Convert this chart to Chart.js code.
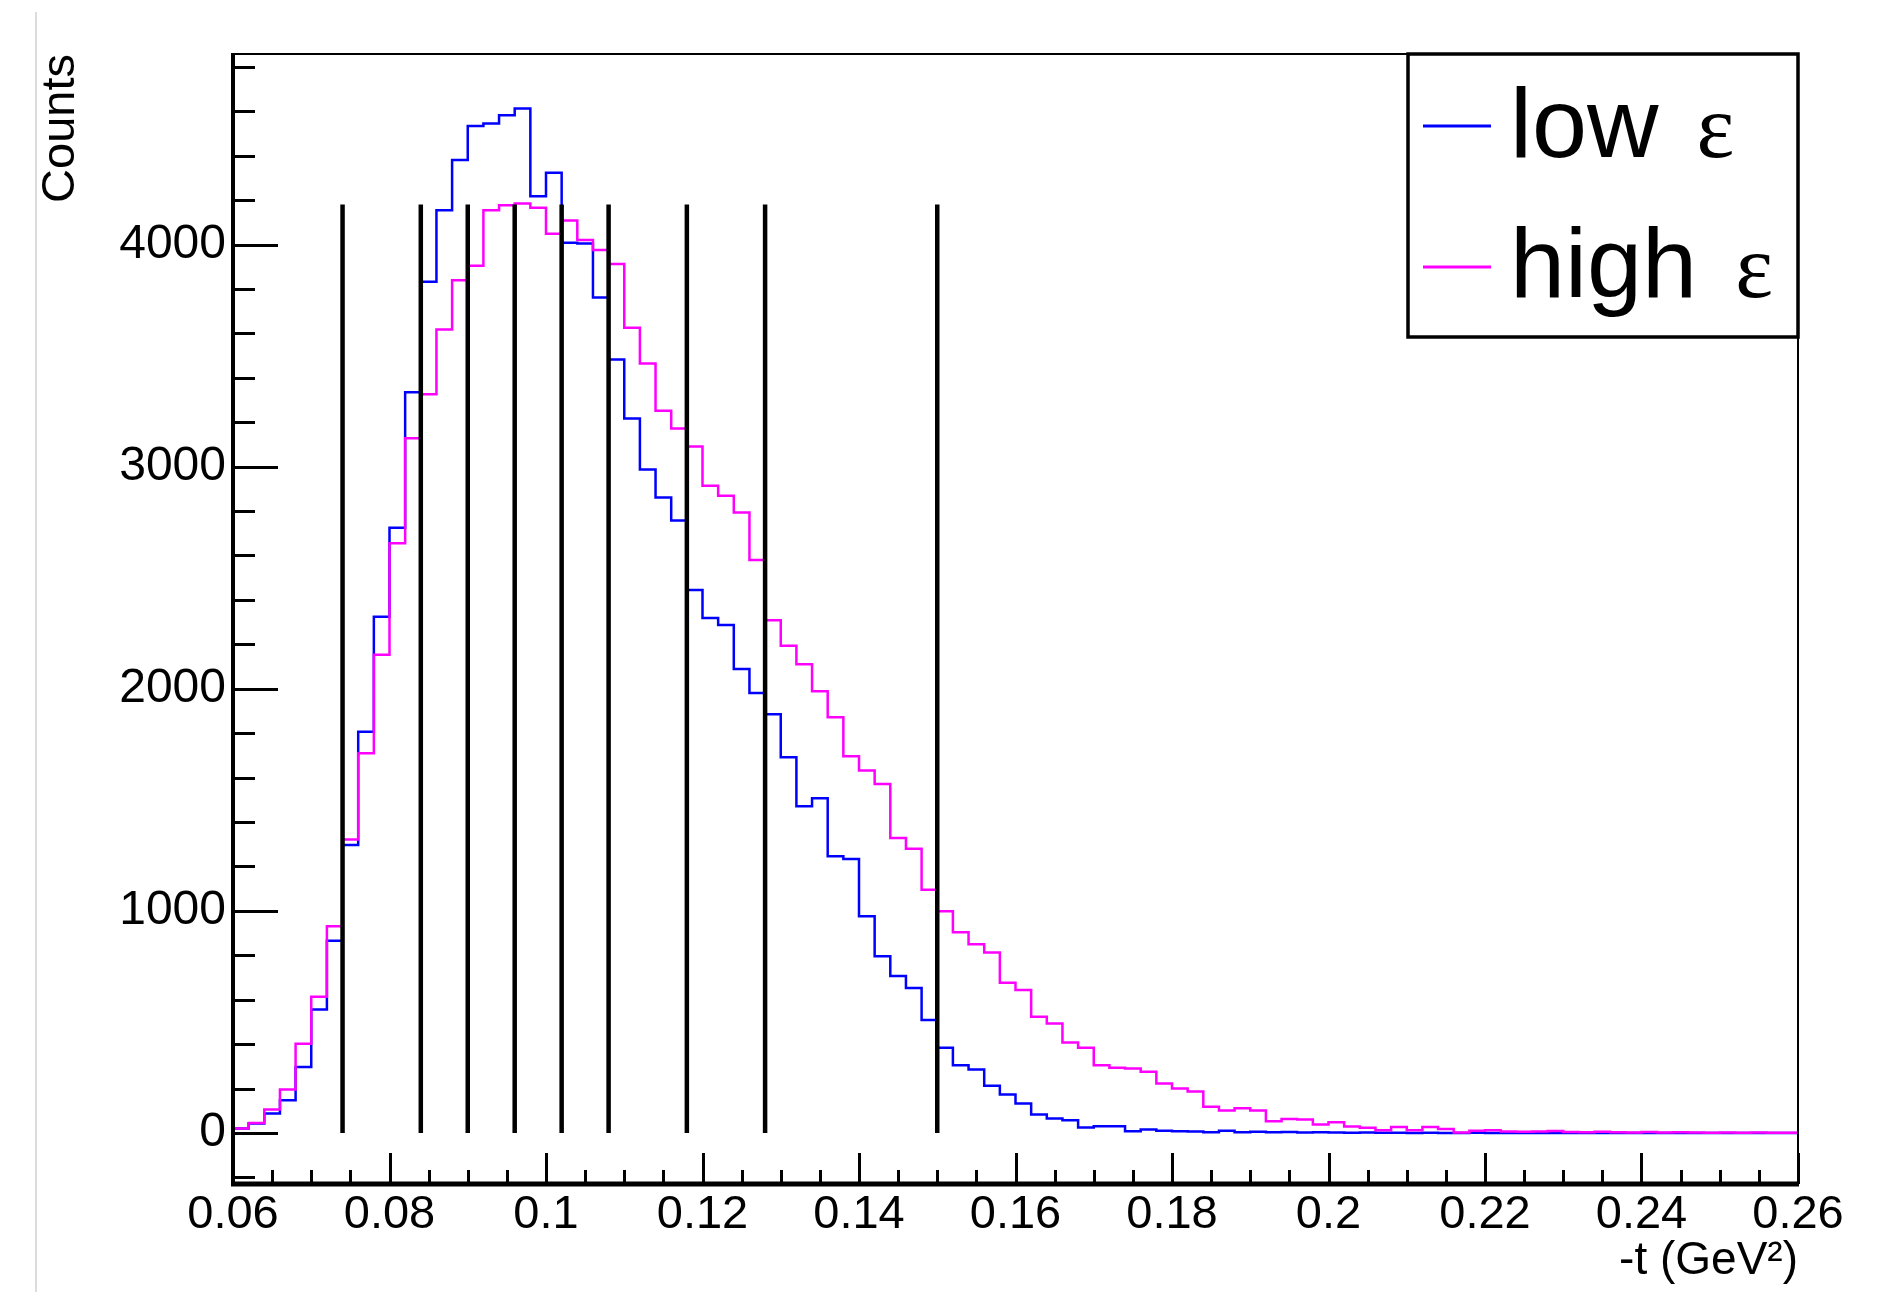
<!DOCTYPE html>
<html lang="en">
<head>
<meta charset="UTF-8">
<title>-t distribution, low and high epsilon</title>
<script src="https://cdn.jsdelivr.net/npm/chart.js@4.4.1/dist/chart.umd.min.js"></script>
<style>
    html, body { margin: 0; padding: 0; background: #fff; }
    .pagina { position: relative; width: 1890px; height: 1292px; }
    .borda { position: absolute; left: 35px; top: 12px; width: 2px; height: 1280px; background: #dcdcdc; }
    #grafico { position: absolute; left: 0; top: 0; }
</style>
</head>
<body>
<div class="pagina">
    <div class="borda"></div>
    <canvas id="grafico" width="1890" height="1292"></canvas>
</div>
<script>
    // histogram binning: 100 bins of 0.002 GeV^2 between 0.06 and 0.26
    const xMin = 0.06;
    const xMax = 0.26;
    const nBins = 100;

    // counts per bin
    const lowEps = [
        20, 42, 87, 147, 297, 556, 865, 1296, 1806, 2324,
        2725, 3335, 3832, 4154, 4381, 4534, 4545, 4582, 4613, 4218,
        4323, 4008, 4005, 3762, 3482, 3217, 2987, 2861, 2758, 2445,
        2319, 2287, 2089, 1981, 1885, 1692, 1471, 1507, 1246, 1233,
        976, 796, 706, 653, 508, 383, 305, 285, 212, 173,
        132, 83, 65, 57, 24, 30, 30, 8, 15, 10,
        8, 6, 3, 10, 3, 5, 3, 4, 2, 3,
        2, 1, 2, 1, 1, 0, 1, 0, 0, 1,
        0, 0, 0, 0, 0, 0, 0, 0, 0, 0,
        0, 0, 0, 0, 0, 0, 0, 0, 0, 0
    ];
    const highEps = [
        20, 45, 105, 195, 402, 613, 931, 1321, 1709, 2153,
        2655, 3128, 3326, 3617, 3839, 3905, 4154, 4177, 4185, 4166,
        4049, 4108, 4020, 3976, 3912, 3625, 3464, 3252, 3172, 3091,
        2914, 2869, 2794, 2580, 2308, 2194, 2110, 1989, 1872, 1696,
        1632, 1571, 1328, 1280, 1095, 998, 903, 850, 812, 676,
        643, 523, 493, 407, 383, 305, 293, 290, 275, 222,
        200, 187, 118, 101, 111, 101, 53, 63, 60, 38,
        48, 29, 23, 12, 27, 12, 27, 18, 2, 10,
        12, 6, 5, 6, 9, 4, 3, 5, 3, 2,
        4, 2, 3, 2, 1, 2, 1, 2, 1, 1
    ];

    // -t bin boundaries drawn as black lines
    const tCuts = [0.074, 0.084, 0.090, 0.096, 0.102, 0.108, 0.118, 0.128, 0.150];
    const cutTop = 4180;

    const yTicks = [0, 1000, 2000, 3000, 4000];
    const yTickLabels = ['0', '1000', '2000', '3000', '4000'];
    const xTicks = [0.06, 0.08, 0.10, 0.12, 0.14, 0.16, 0.18, 0.20, 0.22, 0.24, 0.26];
    const xTickLabels = ['0.06', '0.08', '0.1', '0.12', '0.14', '0.16', '0.18', '0.2', '0.22', '0.24', '0.26'];

    const fonte = '"Liberation Sans", Arial, Helvetica, sans-serif';

    function pontosHisto(valores) {
        const largura = (xMax - xMin) / nBins;
        const pts = valores.map((v, i) => ({ x: xMin + largura * i, y: v }));
        pts.push({ x: xMax, y: valores[valores.length - 1] });
        return pts;
    }

    const pontosCortes = [];
    tCuts.forEach(t => {
        pontosCortes.push({ x: t, y: 0 }, { x: t, y: cutTop }, { x: t, y: null });
    });

    // ROOT style frame with ticks pointing inwards
    const moldura = {
        id: 'moldura',
        afterDatasetsDraw(chart) {
            const ctx = chart.ctx;
            const a = chart.chartArea;
            const sx = chart.scales.x;
            const sy = chart.scales.y;
            ctx.save();
            ctx.strokeStyle = '#000';
            ctx.lineCap = 'butt';

            ctx.lineWidth = 3;
            for (let k = -1; k <= 24; k++) {
                const v = k * 200;
                if (v < sy.min || v > sy.max) continue;
                const y = Math.round(sy.getPixelForValue(v)) + 0.5;
                const len = (v % 1000 === 0) ? 45 : 22;
                ctx.beginPath();
                ctx.moveTo(a.left, y);
                ctx.lineTo(a.left + len, y);
                ctx.stroke();
            }
            for (let k = 0; k <= 40; k++) {
                const v = xMin + k * 0.005;
                const x = Math.round(sx.getPixelForValue(v)) + 0.5;
                const len = (k % 4 === 0) ? 31 : 14;
                ctx.beginPath();
                ctx.moveTo(x, a.bottom);
                ctx.lineTo(x, a.bottom - len);
                ctx.stroke();
            }

            ctx.lineWidth = 2;
            ctx.beginPath();
            ctx.moveTo(a.left, a.top);
            ctx.lineTo(a.right, a.top);
            ctx.lineTo(a.right, a.bottom);
            ctx.stroke();

            ctx.lineWidth = 4;
            ctx.beginPath();
            ctx.moveTo(a.left, a.top - 1);
            ctx.lineTo(a.left, a.bottom);
            ctx.stroke();
            ctx.lineWidth = 5;
            ctx.beginPath();
            ctx.moveTo(a.left - 2, a.bottom);
            ctx.lineTo(a.right + 1, a.bottom);
            ctx.stroke();
            ctx.restore();
        }
    };

    // boxed legend in the top right corner
    const legenda = {
        id: 'legenda',
        afterDraw(chart) {
            const ctx = chart.ctx;
            const a = chart.chartArea;
            const w = 390, h = 283;
            const x0 = a.right - w, y0 = a.top;
            ctx.save();
            ctx.fillStyle = '#fff';
            ctx.fillRect(x0, y0, w, h);
            ctx.strokeStyle = '#000';
            ctx.lineWidth = 3.5;
            ctx.strokeRect(x0, y0, w, h);

            const itens = chart.data.datasets.filter(d => d.noLegenda !== true);
            itens.forEach((d, i) => {
                const yLinha = y0 + 72 + i * 141;
                const yBase = y0 + 103 + i * 140;
                ctx.strokeStyle = d.borderColor;
                ctx.lineWidth = 3;
                ctx.beginPath();
                ctx.moveTo(x0 + 15, yLinha);
                ctx.lineTo(x0 + 83, yLinha);
                ctx.stroke();

                const partes = d.label.split(' ');
                ctx.fillStyle = '#000';
                ctx.textBaseline = 'alphabetic';
                ctx.textAlign = 'left';
                ctx.font = '99px ' + fonte;
                ctx.fillText(partes[0], x0 + 102, yBase);
                const larg = ctx.measureText(partes[0]).width;
                ctx.font = '90px "Liberation Serif", "Times New Roman", serif';
                ctx.fillText(partes[1], x0 + 102 + larg + 38, yBase);
            });
            ctx.restore();
        }
    };

    const config = {
        type: 'line',
        data: {
            datasets: [
                {
                    label: 'bins',
                    noLegenda: true,
                    data: pontosCortes,
                    borderColor: '#000',
                    borderWidth: 4.5,
                    pointRadius: 0,
                    order: 0
                },
                {
                    label: 'low ε',
                    data: pontosHisto(lowEps),
                    borderColor: '#0000ff',
                    borderWidth: 2.5,
                    pointRadius: 0,
                    stepped: true,
                    order: 2
                },
                {
                    label: 'high ε',
                    data: pontosHisto(highEps),
                    borderColor: '#ff00ff',
                    borderWidth: 2.5,
                    pointRadius: 0,
                    stepped: true,
                    order: 1
                }
            ]
        },
        options: {
            responsive: false,
            devicePixelRatio: 1,
            animation: false,
            layout: { padding: { left: 0, top: 54, right: 92, bottom: 0 } },
            plugins: {
                legend: { display: false },
                tooltip: { enabled: false }
            },
            scales: {
                x: {
                    type: 'linear',
                    min: xMin,
                    max: xMax,
                    grid: { display: false, drawTicks: false },
                    border: { display: false },
                    afterFit(s) { s.height = 108; },
                    afterBuildTicks(s) { s.ticks = xTicks.map(v => ({ value: v })); },
                    ticks: {
                        padding: 3,
                        color: '#000',
                        font: { family: fonte, size: 47 },
                        maxRotation: 0,
                        autoSkip: false,
                        callback: (v, i) => xTickLabels[i]
                    },
                    title: {
                        display: true,
                        text: '-t (GeV²)',
                        align: 'end',
                        color: '#000',
                        font: { family: fonte, size: 46 },
                        padding: { top: 0, bottom: 3 }
                    }
                },
                y: {
                    type: 'linear',
                    min: -230,
                    max: 4858,
                    grid: { display: false, drawTicks: false },
                    border: { display: false },
                    afterFit(s) { s.width = 233; },
                    afterBuildTicks(s) { s.ticks = yTicks.map(v => ({ value: v })); },
                    ticks: {
                        padding: 7,
                        color: '#000',
                        font: { family: fonte, size: 48 },
                        autoSkip: false,
                        callback: (v, i) => yTickLabels[i]
                    },
                    title: {
                        display: true,
                        text: 'Counts',
                        align: 'end',
                        color: '#000',
                        font: { family: fonte, size: 47 },
                        padding: { top: 33, bottom: 0 }
                    }
                }
            }
        },
        plugins: [moldura, legenda]
    };

    new Chart(document.getElementById('grafico'), config);
</script>
</body>
</html>
